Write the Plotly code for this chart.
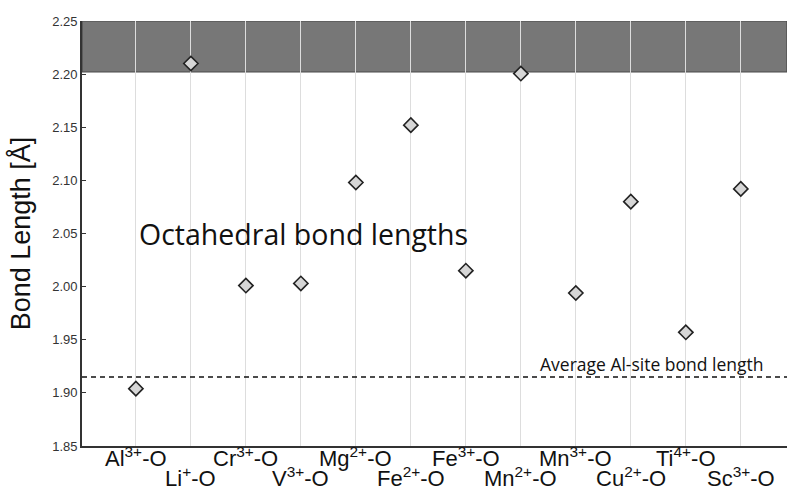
import plotly.graph_objects as go

# Metal–oxygen pairs and their octahedral bond lengths (Å)
bonds = ["Al<sup>3+</sup>-O", "Li<sup>+</sup>-O", "Cr<sup>3+</sup>-O", "V<sup>3+</sup>-O",
         "Mg<sup>2+</sup>-O", "Fe<sup>2+</sup>-O", "Fe<sup>3+</sup>-O", "Mn<sup>2+</sup>-O",
         "Mn<sup>3+</sup>-O", "Cu<sup>2+</sup>-O", "Ti<sup>4+</sup>-O", "Sc<sup>3+</sup>-O"]
bond_length = [1.904, 2.210, 2.001, 2.003, 2.098, 2.152, 2.015, 2.2005, 1.994, 2.080, 1.957, 2.092]

avg_al_site = 1.915          # average Al-site bond length
upper_band = [2.202, 2.25]   # shaded region at the top
y_ticks = [1.85, 1.90, 1.95, 2.00, 2.05, 2.10, 2.15, 2.20, 2.25]

positions = list(range(len(bonds)))
x_range = [-0.98, len(bonds) - 1 + 0.84]

fig = go.Figure()

fig.add_trace(go.Scatter(
    x=positions, y=bond_length, mode="markers",
    marker=dict(symbol="diamond", size=11, color="#d6d6d6",
                line=dict(color="#222222", width=1.6)),
    showlegend=False, hoverinfo="y",
))

# grey band at the top of the plot
fig.add_shape(type="rect", xref="x", yref="y",
              x0=x_range[0], x1=x_range[1], y0=upper_band[0], y1=upper_band[1],
              fillcolor="#777777", line=dict(color="#4a4a4a", width=1.2), layer="below")

# average Al-site reference line
fig.add_shape(type="line", xref="x", yref="y",
              x0=x_range[0], x1=x_range[1], y0=avg_al_site, y1=avg_al_site,
              line=dict(color="#111111", width=1.4, dash="5px,4px"))

fig.add_annotation(x=9.38, y=avg_al_site + 0.0125, xref="x", yref="y",
                   text="Average Al-site bond length", showarrow=False,
                   font=dict(family="Open Sans", size=17.5, color="#111111"),
                   xanchor="center", yanchor="middle")

fig.add_annotation(x=3.056, y=2.05, xref="x", yref="y",
                   text="Octahedral bond lengths", showarrow=False,
                   font=dict(family="Open Sans", size=28.5, color="#111111"),
                   xanchor="center", yanchor="middle")

# category labels, staggered over two rows
for i, label in enumerate(bonds):
    fig.add_annotation(x=i, y=0.0115 if i % 2 == 0 else -0.0355, xref="x", yref="paper",
                       text=label, showarrow=False,
                       font=dict(family="Liberation Sans, Arial", size=22, color="#111111"),
                       xanchor="center", yanchor="top")

fig.update_layout(
    width=787, height=488,
    margin=dict(l=82, r=0, t=21, b=42),
    paper_bgcolor="white", plot_bgcolor="white",
    font=dict(family="Liberation Sans, Arial", color="#333333"),
)

fig.update_xaxes(
    range=x_range, tickvals=positions, showticklabels=False,
    showgrid=True, gridcolor="#dddddd", gridwidth=1.2,
    showline=True, linecolor="#333333", linewidth=1.6,
    ticks="", zeroline=False, fixedrange=True,
)

fig.update_yaxes(
    range=[y_ticks[0], y_ticks[-1]], tickvals=y_ticks,
    ticktext=[f"{v:.2f}" for v in y_ticks],
    tickfont=dict(family="Liberation Sans, Arial", size=13, color="#333333"),
    showgrid=False, showline=True, linecolor="#333333", linewidth=1.6,
    ticks="inside", ticklen=4, tickcolor="#333333", zeroline=False,
    title=dict(text="Bond Length [Å]", standoff=14,
               font=dict(family="Liberation Sans, Arial", size=27, color="#111111")),
    fixedrange=True,
)

fig.write_html("out.html")
